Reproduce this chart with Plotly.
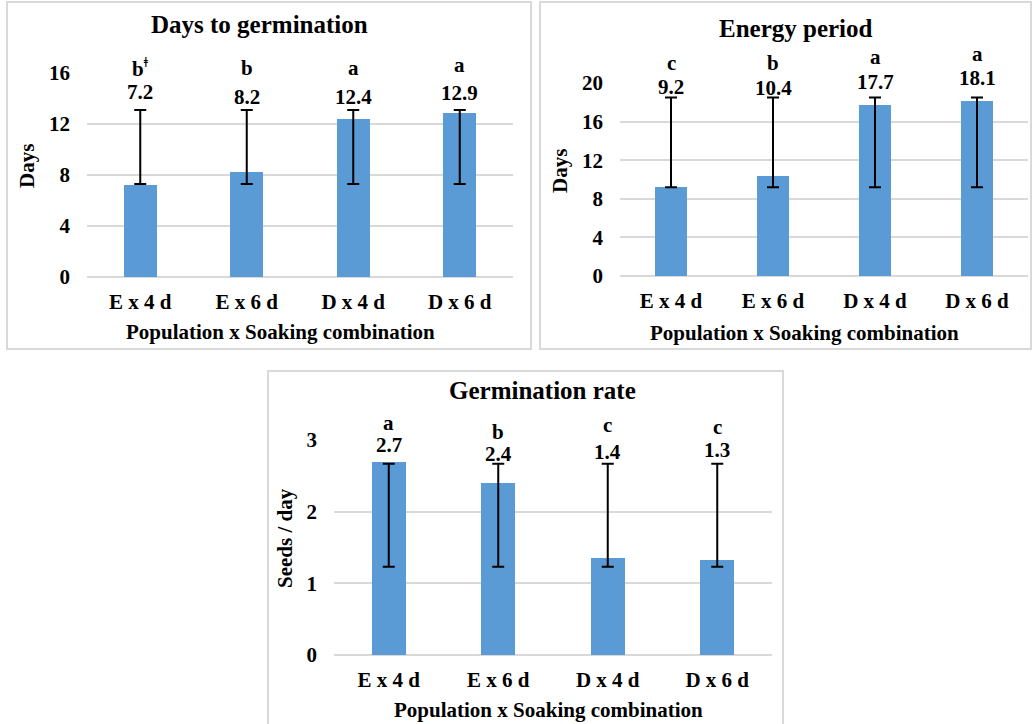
import plotly.graph_objects as go

# ---- data ----
categories = ["E x 4 d", "E x 6 d", "D x 4 d", "D x 6 d"]

days_germ = [7.2, 8.2, 12.4, 12.9]
days_germ_low = [7.3, 7.3, 7.3, 7.3]
days_germ_high = [13.1, 13.1, 13.1, 13.1]
days_germ_letters = ["b<sup>ǂ</sup>", "b", "a", "a"]

energy = [9.2, 10.4, 17.7, 18.1]
energy_low = [9.2, 9.2, 9.2, 9.2]
energy_high = [18.5, 18.5, 18.5, 18.5]
energy_letters = ["c", "b", "a", "a"]

germ_rate = [2.7, 2.4, 1.35, 1.33]
germ_rate_low = [1.23, 1.23, 1.23, 1.23]
germ_rate_high = [2.67, 2.67, 2.67, 2.67]
germ_rate_letters = ["a", "b", "c", "c"]

# ---- layout helpers ----
W, H = 1032, 724
FONT = "Liberation Serif"
BAR = "#5B9BD5"
GRID = "#D9D9D9"


def px(x):
    return x / W


def py(y):
    return 1 - y / H


panels = [
    dict(title="Days to germination", ytitle="Days", vals=days_germ,
         lo=days_germ_low, hi=days_germ_high, letters=days_germ_letters,
         yrange=[0, 16], dtick=4,
         dom_x=(87, 513), dom_y=(277, 73),
         title_pos=(259, 25), xt_pos=(280, 332), yt_pos=(27, 166),
         val_shift=[18, 13, 13, 17], let_shift=[42, 42, 42, 45],
         box=(7, 2, 531, 349)),
    dict(title="Energy period", ytitle="Days", vals=energy,
         lo=energy_low, hi=energy_high, letters=energy_letters,
         yrange=[0, 20], dtick=4,
         dom_x=(620, 1028), dom_y=(276, 83),
         title_pos=(796, 28), xt_pos=(804, 333), yt_pos=(560, 171),
         val_shift=[10, 9, 15, 19], let_shift=[34, 34, 40, 43],
         box=(540, 2, 1031, 349)),
    dict(title="Germination rate", ytitle="Seeds / day", vals=germ_rate,
         lo=germ_rate_low, hi=germ_rate_high, letters=germ_rate_letters,
         yrange=[0, 3], dtick=1,
         dom_x=(334, 772), dom_y=(655, 440),
         title_pos=(542, 390), xt_pos=(548, 710), yt_pos=(285, 538),
         val_shift=[19, 10, 12, 14], let_shift=[41, 32, 39, 37],
         box=(268, 371, 783, 740)),
]

fig = go.Figure()
annotations = []
shapes = []
layout = {}

for i, p in enumerate(panels, start=1):
    sfx = "" if i == 1 else str(i)
    xa, ya = "x" + sfx, "y" + sfx

    fig.add_trace(go.Bar(
        x=categories, y=p["vals"], width=0.31,
        marker=dict(color=BAR, line=dict(width=0)),
        xaxis=xa, yaxis=ya, showlegend=False, hoverinfo="skip"))

    # range bars from the low to the high value
    fig.add_trace(go.Scatter(
        x=categories, y=p["lo"], mode="markers",
        marker=dict(size=2, opacity=0),
        error_y=dict(type="data", symmetric=False,
                     array=[h - l for h, l in zip(p["hi"], p["lo"])],
                     arrayminus=[0] * len(p["lo"]),
                     color="black", thickness=2, width=6),
        xaxis=xa, yaxis=ya, showlegend=False, hoverinfo="skip"))

    layout["xaxis" + sfx] = dict(
        domain=[px(p["dom_x"][0]), px(p["dom_x"][1])],
        anchor=ya, type="category", range=[-0.5, 3.5], automargin=False,
        showgrid=False, showline=False, zeroline=False, ticks="",
        ticklabelstandoff=10,
        tickfont=dict(family=FONT, size=21, color="black", weight="bold"))
    layout["yaxis" + sfx] = dict(
        domain=[py(p["dom_y"][0]), py(p["dom_y"][1])],
        anchor=xa, range=p["yrange"], dtick=p["dtick"], automargin=False,
        showgrid=True, gridcolor=GRID, gridwidth=2,
        zeroline=True, zerolinecolor=GRID, zerolinewidth=2,
        showline=False, ticks="", ticklabelstandoff=16,
        tickfont=dict(family=FONT, size=21, color="black", weight="bold"))

    # value and significance-letter labels
    for c, v, h, letter, vs, ls in zip(categories, p["vals"], p["hi"],
                                        p["letters"], p["val_shift"], p["let_shift"]):
        annotations.append(dict(
            x=c, y=h, xref=xa, yref=ya, text=f"{v:.1f}", showarrow=False,
            yanchor="middle", yshift=vs,
            font=dict(family=FONT, size=21, color="black", weight="bold")))
        annotations.append(dict(
            x=c, y=h, xref=xa, yref=ya, text=letter, showarrow=False,
            yanchor="middle", yshift=ls,
            font=dict(family=FONT, size=21, color="black", weight="bold")))

    # chart title and axis titles
    annotations.append(dict(
        x=px(p["title_pos"][0]), y=py(p["title_pos"][1]), xref="paper", yref="paper",
        text=p["title"], showarrow=False, xanchor="center", yanchor="middle",
        font=dict(family=FONT, size=25, color="black", weight="bold")))
    annotations.append(dict(
        x=px(p["xt_pos"][0]), y=py(p["xt_pos"][1]), xref="paper", yref="paper",
        text="Population x Soaking combination", showarrow=False,
        xanchor="center", yanchor="middle",
        font=dict(family=FONT, size=21, color="black", weight="bold")))
    annotations.append(dict(
        x=px(p["yt_pos"][0]), y=py(p["yt_pos"][1]), xref="paper", yref="paper",
        text=p["ytitle"], showarrow=False, textangle=-90,
        xanchor="center", yanchor="middle",
        font=dict(family=FONT, size=21, color="black", weight="bold")))

    bx0, by0, bx1, by1 = p["box"]
    shapes.append(dict(type="rect", xref="paper", yref="paper",
                       x0=px(bx0), x1=px(bx1), y0=py(by1), y1=py(by0),
                       line=dict(color=GRID, width=2), fillcolor="rgba(0,0,0,0)"))

fig.update_layout(
    width=W, height=H,
    margin=dict(l=0, r=0, t=0, b=0, autoexpand=False),
    paper_bgcolor="white", plot_bgcolor="white",
    annotations=annotations, shapes=shapes,
    bargap=0, **layout)

fig.write_html("out.html")
